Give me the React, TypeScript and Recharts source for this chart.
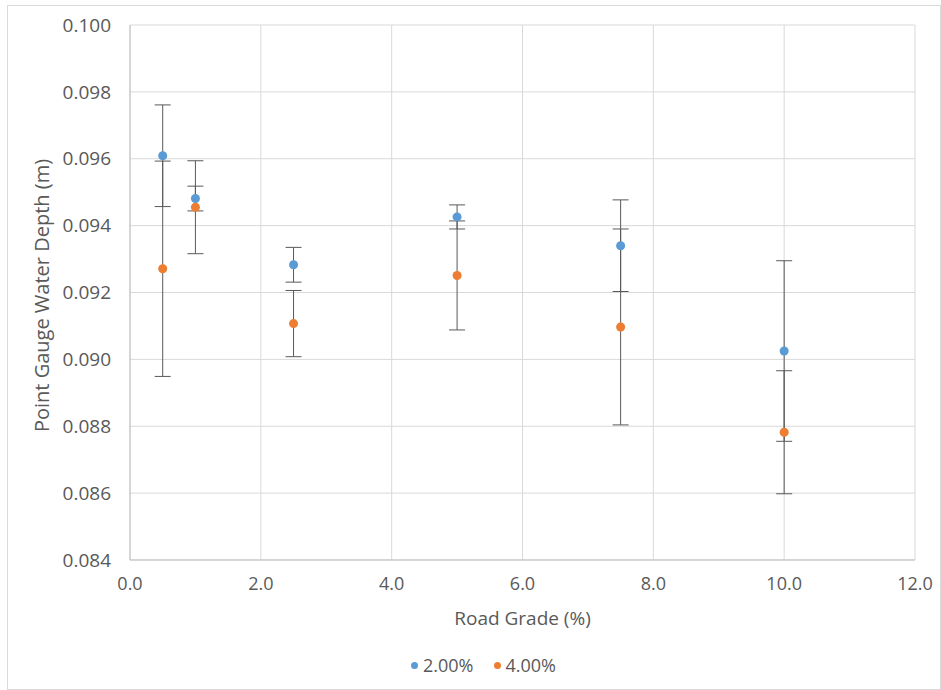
import {
  ScatterChart,
  Scatter,
  XAxis,
  YAxis,
  CartesianGrid,
  ErrorBar,
  Legend,
  Label,
} from "recharts";

// Road grade (%) where both cross slopes were measured
const grades = [0.5, 1.0, 2.5, 5.0, 7.5, 10.0];

// Mean point gauge depth (m) and its error, 2.00% cross slope
const depth2 = [0.09609, 0.09481, 0.09283, 0.09426, 0.0934, 0.09025];
const err2 = [0.00152, 0.00037, 0.00052, 0.00036, 0.00137, 0.0027];

// Same for the 4.00% cross slope
const depth4 = [0.09271, 0.09455, 0.09107, 0.09251, 0.09097, 0.08782];
const err4 = [0.00322, 0.00139, 0.00099, 0.00163, 0.00293, 0.00184];

const xTicks = [0, 2, 4, 6, 8, 10, 12];
const yTicks = [0.084, 0.086, 0.088, 0.09, 0.092, 0.094, 0.096, 0.098, 0.1];

const toRows = (ys: number[], errs: number[]) =>
  grades.map((x, i) => ({ x, y: ys[i], err: errs[i] }));

const FONT = "'Open Sans', sans-serif";
const TEXT = "#595959";

// Excel-style legend: small dot, label, wide gap between entries
function DotLegend({ payload }: { payload?: any[] }) {
  return (
    <div
      style={{
        display: "flex",
        justifyContent: "center",
        gap: 20,
        paddingLeft: 44,
        fontSize: 18,
        fontFamily: FONT,
        color: TEXT,
      }}
    >
      {(payload || []).map((entry) => (
        <div
          key={entry.value}
          style={{ display: "flex", alignItems: "center", gap: 5 }}
        >
          <svg width={7} height={7}>
            <circle cx={3.5} cy={3.5} r={3.5} fill={entry.color} />
          </svg>
          <span>{entry.value}</span>
        </div>
      ))}
    </div>
  );
}

export default function App() {
  const series2 = toRows(depth2, err2);
  const series4 = toRows(depth4, err4);

  return (
    <div
      style={{
        position: "absolute",
        left: 7,
        top: 5,
        width: 932,
        height: 683,
        border: "1px solid #d9d9d9",
        background: "#fff",
        fontFamily: FONT,
      }}
    >
      <ScatterChart
        width={932}
        height={683}
        margin={{ top: 19, right: 25, left: 0, bottom: 45 }}
      >
        <CartesianGrid stroke="#d9d9d9" strokeWidth={1} />
        <XAxis
          type="number"
          dataKey="x"
          domain={[0, 12]}
          ticks={xTicks}
          tickFormatter={(v: number) => v.toFixed(1)}
          height={60}
          tickLine={false}
          tickMargin={11}
          axisLine={{ stroke: "#bfbfbf" }}
          tick={{ fill: TEXT, fontSize: 18, fontFamily: FONT }}
        >
          <Label
            value="Road Grade (%)"
            position="insideBottom"
            offset={-5}
            style={{ fill: TEXT, fontSize: 19, fontFamily: FONT }}
          />
        </XAxis>
        <YAxis
          type="number"
          dataKey="y"
          domain={[0.084, 0.1]}
          ticks={yTicks}
          tickFormatter={(v: number) => v.toFixed(3)}
          width={122}
          tickLine={false}
          tickMargin={13}
          axisLine={{ stroke: "#bfbfbf" }}
          tick={{ fill: TEXT, fontSize: 19, fontFamily: FONT }}
        >
          <Label
            value="Point Gauge Water Depth (m)"
            angle={-90}
            position="insideLeft"
            dx={29}
            dy={3}
            style={{
              fill: TEXT,
              fontSize: 20,
              fontFamily: FONT,
              textAnchor: "middle",
            }}
          />
        </YAxis>
        <Legend
          verticalAlign="bottom"
          content={<DotLegend />}
          wrapperStyle={{ bottom: 12 }}
        />
        <Scatter
          name="2.00%"
          data={series2}
          fill="#5b9bd5"
          shape="circle"
          isAnimationActive={false}
        >
          <ErrorBar
            dataKey="err"
            direction="y"
            width={8}
            stroke="#595959"
            strokeWidth={1}
          />
        </Scatter>
        <Scatter
          name="4.00%"
          data={series4}
          fill="#ed7d31"
          shape="circle"
          isAnimationActive={false}
        >
          <ErrorBar
            dataKey="err"
            direction="y"
            width={8}
            stroke="#595959"
            strokeWidth={1}
          />
        </Scatter>
      </ScatterChart>
    </div>
  );
}
